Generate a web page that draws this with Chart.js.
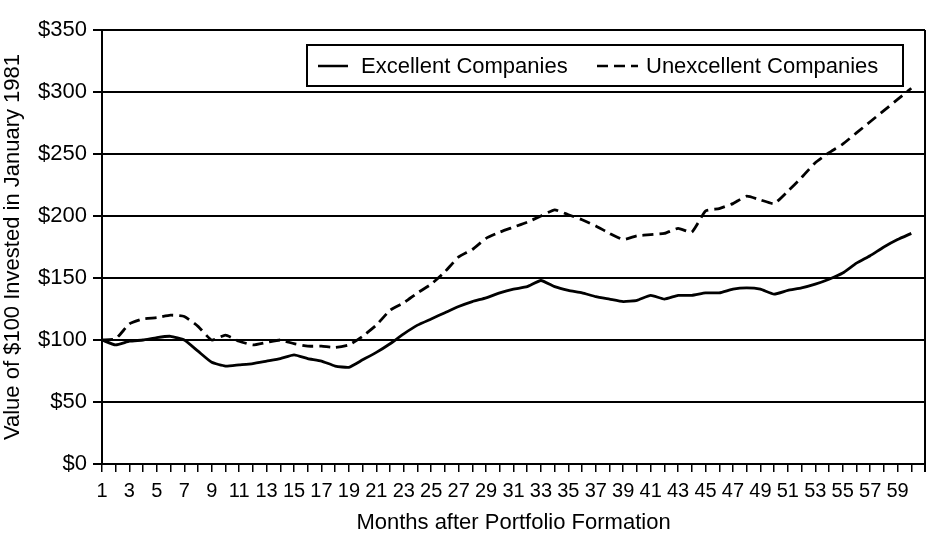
<!DOCTYPE html>
<html>
<head>
<meta charset="utf-8">
<script src="https://cdn.jsdelivr.net/npm/chart.js@4/dist/chart.umd.min.js"></script>
<style>
  html, body { margin: 0; padding: 0; background: #fff; }
  #wrap { width: 949px; height: 545px; }
</style>
</head>
<body>
<div id="wrap"><canvas id="grafico" width="949" height="545"></canvas></div>
<script>
// meses após a formação da carteira
const meses = [1,2,3,4,5,6,7,8,9,10,11,12,13,14,15,16,17,18,19,20,
  21,22,23,24,25,26,27,28,29,30,31,32,33,34,35,36,37,38,39,40,
  41,42,43,44,45,46,47,48,49,50,51,52,53,54,55,56,57,58,59,60];

const excelentes = [100,96,99,100,102,103,100,91,82,79,80,81,83,85,88,85,83,79,78,84,
  90,97,105,112,117,122,127,131,134,138,141,143,148,143,140,138,135,133,131,132,
  136,133,136,136,138,138,141,142,141,137,140,142,145,149,154,162,168,175,181,186];

const naoExcelentes = [100,101,113,117,118,120,119,111,100,104,99,96,98,100,97,95,95,94,96,103,
  112,124,130,138,145,155,167,173,182,187,191,195,200,205,201,197,192,186,181,184,
  185,186,190,187,204,206,210,216,213,210,220,231,243,251,258,267,276,285,294,303];

const valoresY = [0, 50, 100, 150, 200, 250, 300, 350];

const fonte = '"Liberation Sans", Arial, Helvetica, sans-serif';
const preto = '#000';

// legenda desenhada à mão dentro da área do gráfico
const legendaCaixa = {
  id: 'legendaCaixa',
  afterDraw(chart) {
    const ctx = chart.ctx;
    const ds = chart.data.datasets;
    ctx.save();
    ctx.strokeStyle = preto;
    ctx.lineWidth = 2;
    ctx.fillStyle = '#fff';
    ctx.fillRect(307, 45, 596, 41);
    ctx.strokeRect(307, 45, 596, 41);
    ctx.font = '22px ' + fonte;
    ctx.fillStyle = preto;
    ctx.textBaseline = 'middle';
    const itens = [
      { x: 318, w: 30, tx: 361 },
      { x: 597, w: 41, tx: 646 }
    ];
    itens.forEach((it, i) => {
      ctx.beginPath();
      ctx.lineWidth = 2.5;
      ctx.setLineDash(ds[i].borderDash || []);
      ctx.moveTo(it.x, 66);
      ctx.lineTo(it.x + it.w, 66);
      ctx.stroke();
      ctx.setLineDash([]);
      ctx.fillText(ds[i].label, it.tx, 67);
    });
    // borda direita
    const a = chart.chartArea;
    ctx.beginPath();
    ctx.lineWidth = 2;
    ctx.moveTo(a.right, a.top);
    ctx.lineTo(a.right, a.bottom + 8);
    ctx.stroke();
    ctx.restore();
  }
};

const ctx = document.getElementById('grafico').getContext('2d');
new Chart(ctx, {
  type: 'line',
  data: {
    datasets: [
      {
        label: 'Excellent Companies',
        data: meses.map((m, i) => ({ x: m, y: excelentes[i] })),
        borderColor: preto,
        borderWidth: 2.8,
        pointRadius: 0,
        tension: 0.15,
        fill: false
      },
      {
        label: 'Unexcellent Companies',
        data: meses.map((m, i) => ({ x: m, y: naoExcelentes[i] })),
        borderColor: preto,
        borderWidth: 2.8,
        borderDash: [11, 6],
        pointRadius: 0,
        tension: 0.15,
        fill: false
      }
    ]
  },
  options: {
    responsive: false,
    animation: false,
    layout: { padding: { left: 0, right: 24, top: 30, bottom: 9 } },
    plugins: {
      legend: { display: false },
      tooltip: { enabled: false }
    },
    scales: {
      x: {
        type: 'linear',
        min: 1,
        max: 61,
        afterFit: (s) => { s.height = 72; },
        afterBuildTicks: (s) => {
          s.ticks = [];
          for (let v = 1; v <= 61; v++) s.ticks.push({ value: v });
        },
        ticks: {
          autoSkip: false,
          maxRotation: 0,
          padding: 7,
          color: preto,
          font: { family: fonte, size: 20 },
          callback: (v) => (v % 2 === 1 && v < 60) ? String(v) : ''
        },
        grid: {
          drawOnChartArea: false,
          drawTicks: true,
          tickLength: 8,
          color: preto,
          lineWidth: 1.5
        },
        border: { display: true, color: preto, width: 2 },
        title: {
          display: true,
          text: 'Months after Portfolio Formation',
          color: preto,
          font: { family: fonte, size: 22 },
          padding: { top: 2, bottom: 0 }
        }
      },
      y: {
        min: 0,
        max: 350,
        afterFit: (s) => { s.width = 102; },
        afterBuildTicks: (s) => { s.ticks = valoresY.map(v => ({ value: v })); },
        ticks: {
          padding: 6,
          color: preto,
          font: { family: fonte, size: 22 },
          callback: (v) => '$' + v
        },
        grid: {
          color: preto,
          lineWidth: 2,
          tickLength: 9
        },
        border: { display: true, color: preto, width: 2 },
        title: {
          display: true,
          text: 'Value of $100 Invested in January 1981',
          color: preto,
          font: { family: fonte, size: 22 },
          padding: { top: 0, bottom: 0 }
        }
      }
    }
  },
  plugins: [legendaCaixa]
});
</script>
</body>
</html>
